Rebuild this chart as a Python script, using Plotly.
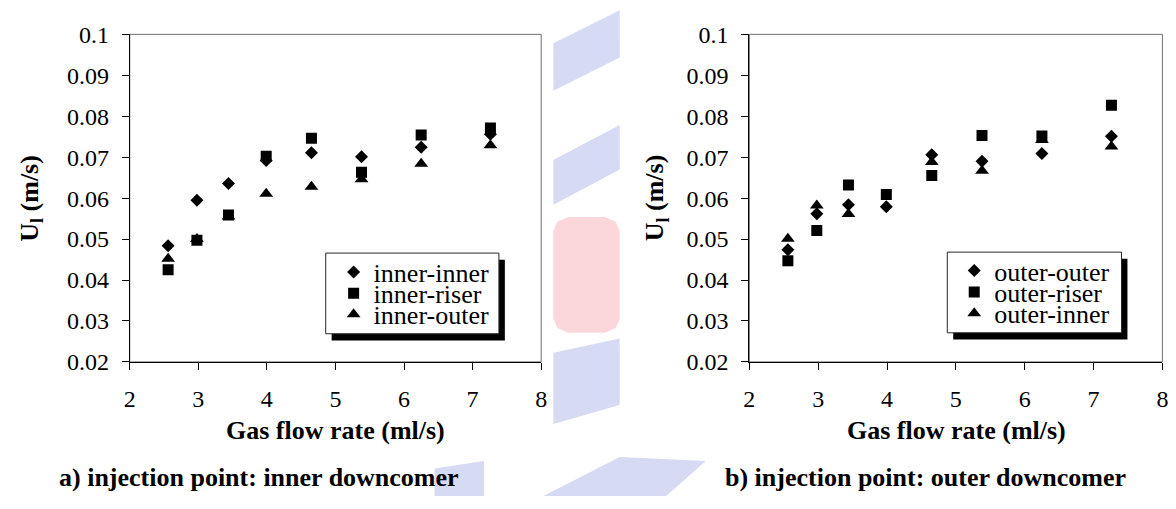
import plotly.graph_objects as go

W, H = 1176, 509

# ---------------- data ----------------
x_flow = [2.56, 2.98, 3.44, 3.99, 4.65, 5.38, 6.25, 7.26]

inner_inner = [0.0484, 0.0595, 0.0636, 0.0692, 0.0711, 0.0701, 0.0724, 0.0756]
inner_riser = [0.0425, 0.0497, 0.0559, 0.0702, 0.0746, 0.0663, 0.0754, 0.0771]
inner_outer = [0.0452, 0.0500, 0.0555, 0.0611, 0.0628, 0.0646, 0.0684, 0.0729]

outer_outer = [0.0474, 0.0562, 0.0584, 0.0579, 0.0706, 0.0690, 0.0709, 0.0751]
outer_riser = [0.0447, 0.0521, 0.0632, 0.0609, 0.0655, 0.0753, 0.0752, 0.0827]
outer_inner = [0.0501, 0.0582, 0.0561, None, 0.0688, 0.0667, 0.0742, 0.0726]

left_names = ["inner-inner", "inner-riser", "inner-outer"]
right_names = ["outer-outer", "outer-riser", "outer-inner"]

x_ticks = [2, 3, 4, 5, 6, 7, 8]
x_tick_labels = ["2", "3", "4", "5", "6", "7", "8"]
y_ticks = [0.02, 0.03, 0.04, 0.05, 0.06, 0.07, 0.08, 0.09, 0.1]
y_tick_labels = ["0.02", "0.03", "0.04", "0.05", "0.06", "0.07", "0.08", "0.09", "0.1"]

x_title = "Gas flow rate (ml/s)"
y_title = "U<sub>l</sub> (m/s)"
captions = ["a) injection point: inner downcomer", "b) injection point: outer downcomer"]

# ---------------- helpers ----------------
def px(x):
    return x / W


def py(y):
    return 1 - y / H


FONT = "Liberation Serif, 'Times New Roman', Times, serif"
symbols = ["diamond", "square", "triangle-up"]
sizes = [10, 11, 12]

fig = go.Figure()

series_left = [inner_inner, inner_riser, inner_outer]
series_right = [outer_outer, outer_riser, outer_inner]

legend_ids_left = ["legend2", "legend3", "legend4"]
legend_ids_right = ["legend5", "legend6", "legend7"]

for i, (name, vals) in enumerate(zip(left_names, series_left)):
    fig.add_trace(go.Scatter(
        x=x_flow, y=vals, mode="markers", name=name,
        marker=dict(symbol=symbols[i], size=sizes[i], color="black", line=dict(width=0)),
        xaxis="x", yaxis="y", legend=legend_ids_left[i],
    ))

for i, (name, vals) in enumerate(zip(right_names, series_right)):
    fig.add_trace(go.Scatter(
        x=x_flow, y=vals, mode="markers", name=name,
        marker=dict(symbol=symbols[i], size=sizes[i], color="black", line=dict(width=0)),
        xaxis="x2", yaxis="y2", legend=legend_ids_right[i],
    ))

axis_common = dict(
    showgrid=False, zeroline=False, showline=True, linecolor="black", linewidth=1,
    ticks="outside", ticklen=7, tickcolor="black", tickwidth=1,
    tickfont=dict(family=FONT, size=24, color="black"),
)

y_dom = [py(367.7), py(22.5)]
xdom_left = [px(125), px(540.7)]
xdom_right = [px(751), px(1168.3)]

fig.update_layout(
    width=W, height=H,
    margin=dict(l=0, r=0, t=0, b=0),
    paper_bgcolor="white", plot_bgcolor="rgba(0,0,0,0)",
    xaxis=dict(domain=xdom_left, range=[2, 8], tickvals=x_ticks, ticktext=x_tick_labels,
               anchor="y", ticklabelstandoff=8, **axis_common),
    yaxis=dict(domain=y_dom, range=[0.02, 0.1], tickvals=y_ticks, ticktext=y_tick_labels,
               anchor="x", ticklabelstandoff=8, **axis_common),
    xaxis2=dict(domain=xdom_right, range=[2, 8], tickvals=x_ticks, ticktext=x_tick_labels,
                anchor="y2", ticklabelstandoff=8, **axis_common),
    yaxis2=dict(domain=y_dom, range=[0.02, 0.1], tickvals=y_ticks, ticktext=y_tick_labels,
                anchor="x2", ticklabelstandoff=8, **axis_common),
    showlegend=True,
)

# legends (one per entry so the rows can be packed tightly)
legend_font = dict(family=FONT, size=26, color="black")
left_rows = [273, 295.5, 317.5]
right_rows = [271.5, 294, 316.5]
leg_layout = {}
for lid, yy in zip(legend_ids_left, left_rows):
    leg_layout[lid] = dict(x=px(331), y=py(yy), xanchor="left", yanchor="middle",
                           bgcolor="rgba(0,0,0,0)", borderwidth=0, font=legend_font,
                           itemsizing="trace", visible=True)
for lid, yy in zip(legend_ids_right, right_rows):
    leg_layout[lid] = dict(x=px(958), y=py(yy), xanchor="left", yanchor="middle",
                           bgcolor="rgba(0,0,0,0)", borderwidth=0, font=legend_font,
                           itemsizing="trace", visible=True)
fig.update_layout(**leg_layout)

shapes = []

# watermark pieces (faint background logo)
blue = "rgba(214,218,242,1)"
pink = "rgba(251,214,219,1)"


def poly(pts, color):
    path = "M " + " L ".join(f"{px(a):.5f},{py(b):.5f}" for a, b in pts) + " Z"
    return dict(type="path", path=path, xref="paper", yref="paper",
                fillcolor=color, line=dict(width=0), layer="below")


shapes.append(poly([(553, 32), (620, -3), (620, 47), (553, 82)], blue))
shapes.append(poly([(553, 155), (620, 118), (620, 165), (553, 202)], blue))
shapes.append(poly([(553, 358), (620, 343), (620, 413), (553, 433)], blue))
shapes.append(poly([(543, 509), (620, 468), (707, 472), (667, 509)], blue))
shapes.append(poly([(433, 509), (433, 480), (483, 472), (483, 509)], blue))
shapes.append(poly([(553, 230), (557, 220), (568, 215), (605, 215), (616, 220), (620, 230),
                    (620, 322), (616, 332), (605, 337), (568, 337), (557, 332), (553, 322)], pink))

# plot area frames (grey), axes drawn in black on top
for xr, yr in [("x domain", "y domain"), ("x2 domain", "y2 domain")]:
    shapes.append(dict(type="rect", xref=xr, yref=yr, x0=0, x1=1, y0=0, y1=1,
                       line=dict(color="rgb(110,110,110)", width=1), layer="below"))

# legend boxes with shadow
for (x0, x1, y0, y1) in [(323, 498, 253, 338), (951, 1127, 252, 337)]:
    shapes.append(dict(type="rect", xref="paper", yref="paper",
                       x0=px(x0 + 6), x1=px(x1 + 6), y0=py(y1 + 7), y1=py(y0 + 7),
                       fillcolor="black", line=dict(width=0), layer="above"))
    shapes.append(dict(type="rect", xref="paper", yref="paper",
                       x0=px(x0), x1=px(x1), y0=py(y1), y1=py(y0),
                       fillcolor="white", line=dict(color="rgb(40,40,40)", width=1), layer="above"))

fig.update_layout(shapes=shapes)

# titles and captions
annotations = []
bold_font = dict(family=FONT, size=26, color="black")
for cx in [333, 960]:
    annotations.append(dict(text=f"<b>{x_title}</b>", x=px(cx), y=py(440), xref="paper", yref="paper",
                            xanchor="center", yanchor="middle", showarrow=False, font=bold_font))
for cx in [25, 657]:
    annotations.append(dict(text=f"<b>{y_title}</b>", x=px(cx), y=py(195), xref="paper", yref="paper",
                            xanchor="center", yanchor="middle", showarrow=False, textangle=-90,
                            font=bold_font))
for cx, cap in zip([256, 929], captions):
    annotations.append(dict(text=f"<b>{cap}</b>", x=px(cx), y=py(490), xref="paper", yref="paper",
                            xanchor="center", yanchor="middle", showarrow=False, font=bold_font))
fig.update_layout(annotations=annotations)

fig.write_html(
    "out.html",
    config={"displayModeBar": False},
    post_script="document.documentElement.style.margin='0';document.body.style.margin='0';"
                "document.body.style.overflow='hidden';",
)
